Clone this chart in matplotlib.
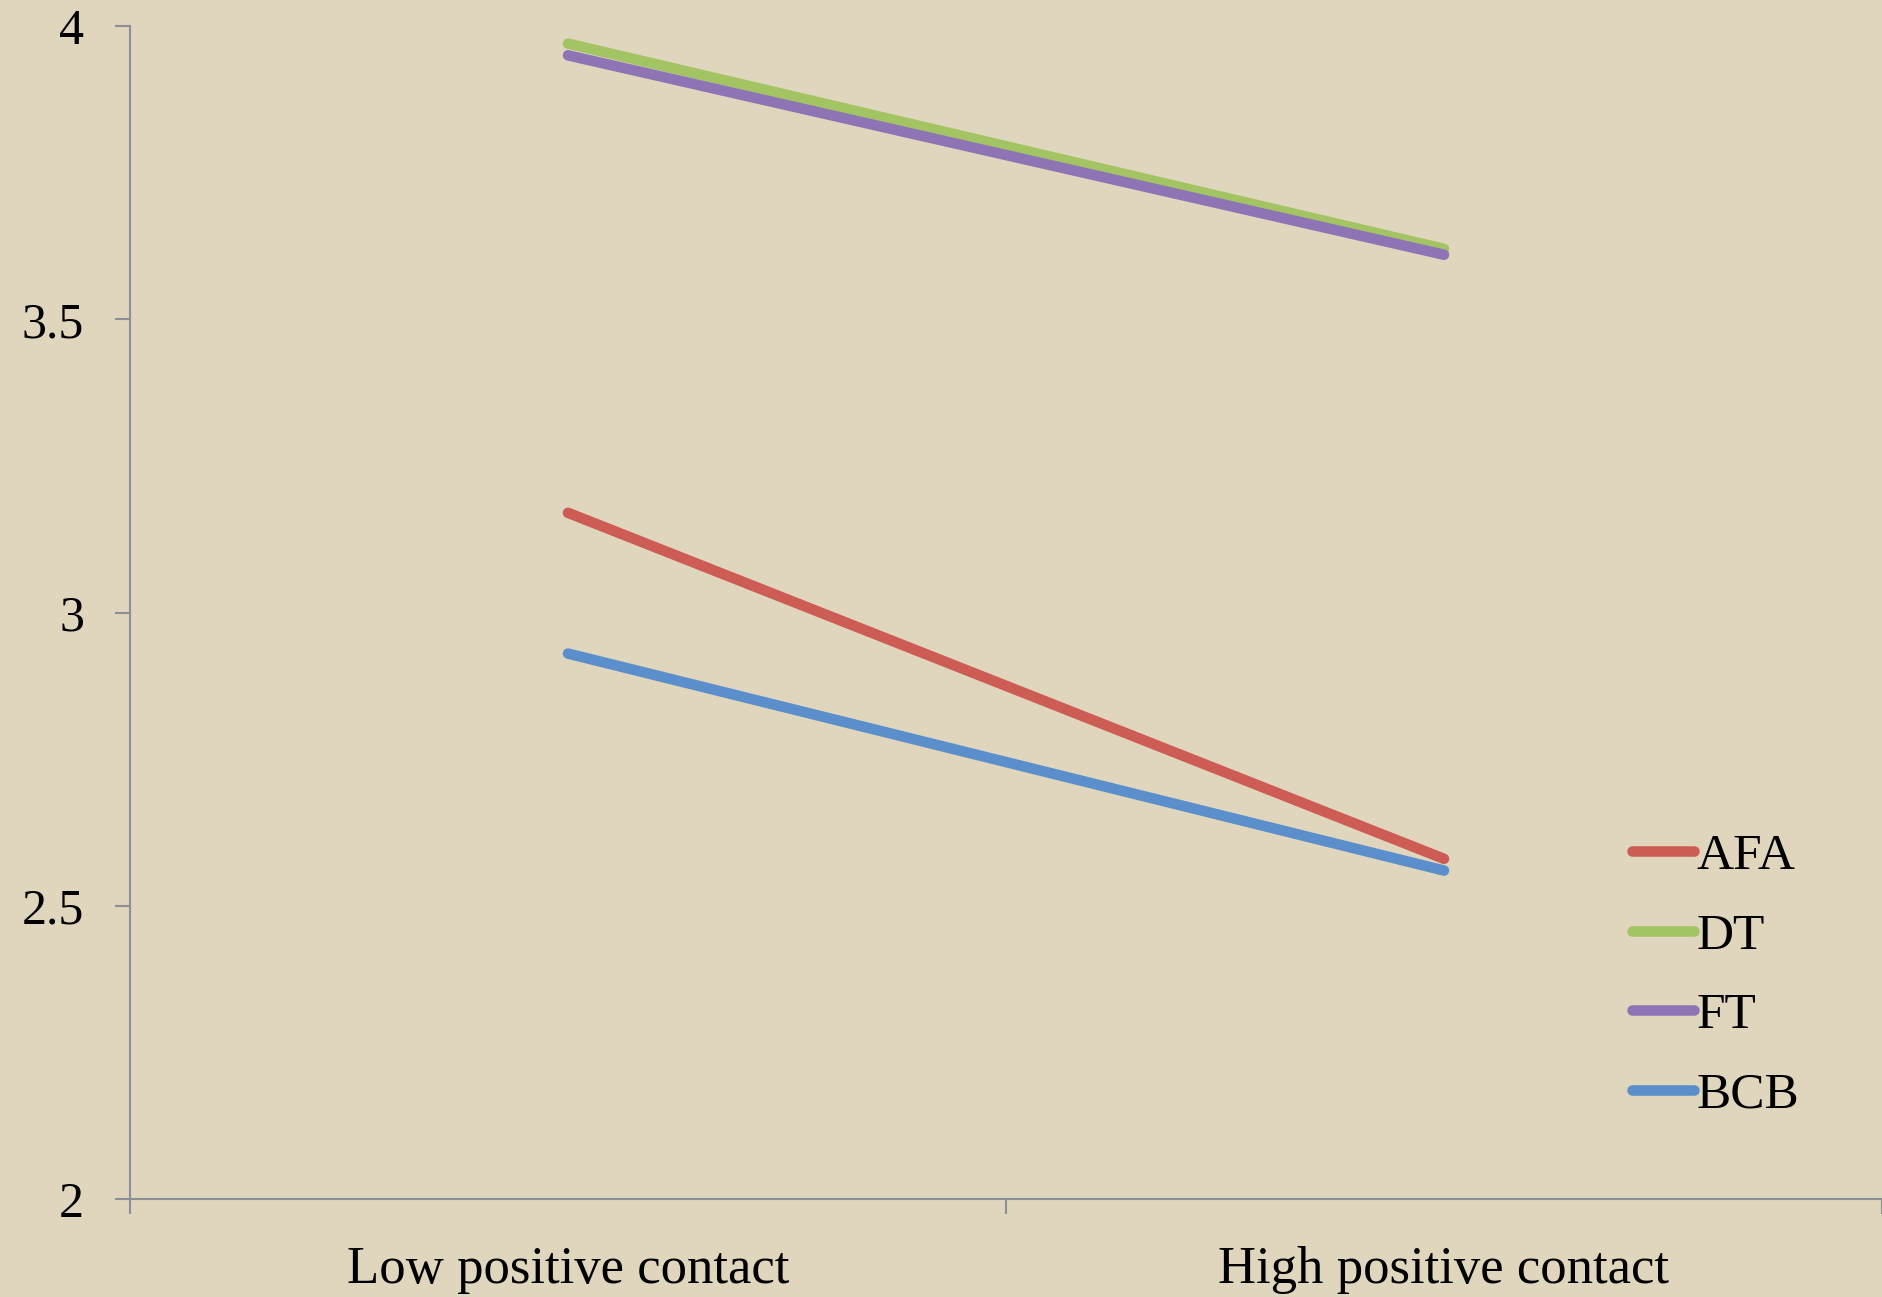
import numpy as np
import matplotlib
matplotlib.use("Agg")
from matplotlib import pyplot as plt

# categorias del eje x y series
categorias = ["Low positive contact", "High positive contact"]
series = ["AFA", "DT", "FT", "BCB"]
afa = [3.17, 2.58]
dt = [3.97, 3.62]
ft = [3.95, 3.61]
bcb = [2.93, 2.56]
colores = ["#CD5C55", "#A3C462", "#8E74B5", "#5A8FCB"]

fondo = "#E0D6BE"
gris_eje = "#8C9096"

plt.rcParams["font.family"] = ["Liberation Serif", "DejaVu Serif"]

fig = plt.figure(figsize=(18.82, 12.97), dpi=100, facecolor=fondo)
ax = fig.add_axes([130 / 1882, 1 - 1199 / 1297, 1 - 130 / 1882, (1199 - 26) / 1297])
ax.set_facecolor(fondo)

x = np.arange(len(categorias))
for nombre, valores, color in zip(series, [afa, dt, ft, bcb], colores):
    ax.plot(x, valores, color=color, lw=7.6, solid_capstyle="round", label=nombre)

ax.set_xlim(-0.5, 1.5)
ax.set_ylim(2, 4)
ax.set_yticks([2, 2.5, 3, 3.5, 4])
ax.set_yticklabels(["2", "2.5", "3", "3.5", "4"])
ax.set_xticks(x)
ax.set_xticklabels(categorias)
ax.set_xticks([-0.5, 0.5, 1.5], minor=True)

for lado in ["top", "right"]:
    ax.spines[lado].set_visible(False)
for lado in ["left", "bottom"]:
    ax.spines[lado].set_color(gris_eje)
    ax.spines[lado].set_linewidth(1.5)
    ax.spines[lado].set_clip_on(False)

ax.tick_params(axis="y", which="major", length=11, width=1.5, color=gris_eje,
               labelsize=36, pad=22)
ax.tick_params(axis="x", which="major", length=0, labelsize=38, pad=34)
ax.tick_params(axis="x", which="minor", length=11, width=1.5, color=gris_eje)

leg = ax.legend(loc="center left", bbox_to_anchor=(1632 / 1882, 1 - 976 / 1297),
                bbox_transform=fig.transFigure, frameon=False, fontsize=37,
                handlelength=1.2, handletextpad=0.05, labelspacing=0.63,
                borderpad=0, borderaxespad=0)
for linea in leg.get_lines():
    linea.set_linewidth(7.6)
    linea.set_solid_capstyle("round")

fig.savefig("out.png", dpi=100, facecolor=fondo)
